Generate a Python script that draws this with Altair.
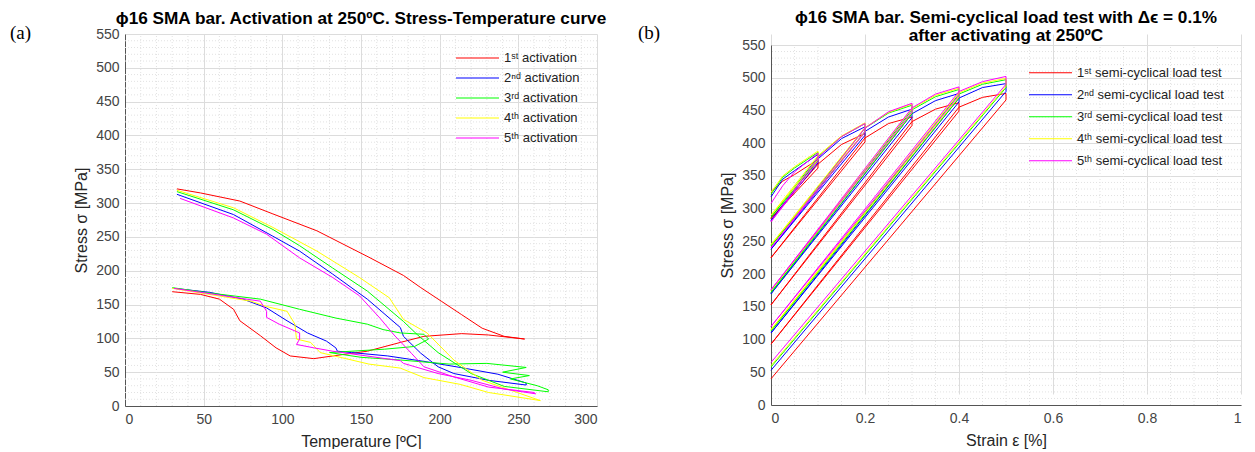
import altair as alt
import pandas as pd

FONT = "Liberation Sans"
COLORS = ["#ff0000", "#0000ff", "#00ff00", "#ffff00", "#ff00ff"]

A_LABELS = ["1ˢᵗ activation", "2ⁿᵈ activation", "3ʳᵈ activation",
            "4ᵗʰ activation", "5ᵗʰ activation"]
B_LABELS = ["1ˢᵗ semi-cyclical load test", "2ⁿᵈ semi-cyclical load test",
            "3ʳᵈ semi-cyclical load test", "4ᵗʰ semi-cyclical load test",
            "5ᵗʰ semi-cyclical load test"]
TAGS = ["(a)", "(b)"]

# ---------------- panel (a): temperature [ºC] / stress [MPa] ----------------
A1_T = [30, 48, 60, 69, 73, 86, 96, 105, 120, 132, 154, 175, 190, 214, 231, 254,
        241, 227, 214, 201, 188, 177, 155, 122, 94, 73, 48, 33]
A1_S = [169, 165, 158, 143, 126, 104, 86, 74, 70, 74, 81, 94, 103, 107, 105, 99,
        103, 115, 135, 155, 175, 193, 220, 259, 284, 303, 315, 321]

A2_T = [31, 54, 75, 90, 103, 116, 128, 134, 135, 144, 167, 190, 213, 237, 255,
        255, 231, 220, 209, 199, 188, 177, 175, 154, 132, 111, 94, 69, 33]
A2_S = [174, 168, 158, 145, 126, 108, 96, 86, 81, 79, 74, 66, 57, 47, 34,
        31, 38, 43, 48, 58, 78, 103, 116, 158, 195, 229, 251, 283, 313]

A3_T = [30, 54, 86, 111, 134, 154, 164, 175, 190, 193, 184, 165, 130, 150, 175, 206,
        230, 255, 240, 257, 245, 262, 269, 269, 241, 220, 199, 186, 177, 154, 132,
        111, 94, 69, 33]
A3_S = [175, 167, 158, 143, 130, 121, 113, 108, 106, 99, 88, 84, 79, 72, 68, 62,
        63, 57, 50, 45, 40, 30, 24, 21, 29, 48, 79, 105, 125, 170, 204,
        237, 261, 290, 317]

A4_T = [30, 80, 90, 103, 108, 109, 118, 120, 124, 155, 175, 190, 213, 231, 264,
        264, 227, 209, 192, 177, 168, 149, 122, 94, 69, 33]
A4_S = [174, 155, 147, 140, 121, 99, 94, 89, 79, 62, 56, 42, 32, 20, 8,
        8, 38, 68, 108, 128, 160, 190, 229, 264, 293, 319]

A5_T = [31, 86, 90, 90, 98, 111, 111, 109, 120, 132, 175, 177, 199, 220, 241, 261,
        260, 231, 209, 190, 182, 171, 162, 149, 132, 111, 96, 90, 69, 35]
A5_S = [174, 155, 140, 131, 121, 108, 99, 91, 86, 81, 67, 63, 48, 38, 25, 18,
        20, 28, 43, 58, 78, 105, 130, 163, 190, 219, 244, 254, 278, 307]

# ---------------- panel (b): strain [%] / stress [MPa] ----------------
B_STRAIN = [0, 0.025, 0.05, 0.1, 0.1, 0, 0.1, 0.15, 0.2, 0.2, 0, 0.2, 0.25, 0.3,
            0.3, 0, 0.3, 0.35, 0.4, 0.4, 0, 0.4, 0.45, 0.5, 0.5, 0]
B1_S = [325, 342, 352, 375, 362, 285, 368, 398, 415, 402, 225, 408, 430, 440,
        427, 153, 433, 452, 462, 449, 93, 455, 470, 476, 466, 40]
B2_S = [318, 345, 358, 383, 370, 282, 376, 407, 425, 412, 238, 418, 440, 452,
        439, 170, 445, 465, 476, 463, 110, 469, 485, 491, 479, 53]
B3_S = [322, 348, 362, 386, 373, 287, 379, 410, 430, 417, 243, 423, 446, 458,
        445, 172, 451, 471, 482, 469, 113, 475, 490, 497, 485, 58]
B4_S = [325, 350, 364, 388, 375, 290, 381, 411, 431, 418, 245, 424, 447, 460,
        447, 175, 453, 473, 484, 471, 115, 477, 492, 499, 487, 60]
B5_S = [308, 335, 356, 385, 372, 280, 378, 410, 430, 417, 240, 423, 448, 461,
        448, 176, 454, 475, 486, 473, 120, 479, 494, 502, 490, 65]

A_TICKS_X = [0, 50, 100, 150, 200, 250, 300]
B_TICKS_X = [0, 0.2, 0.4, 0.6, 0.8, 1]
Y_DOMAIN = [0, 550]
TICKS_Y = [0, 50, 100, 150, 200, 250, 300, 350, 400, 450, 500, 550]
A_MINOR_X = [v for v in range(10, 300, 10) if v % 50]
B_MINOR_X = [0.05, 0.1, 0.15, 0.25, 0.3, 0.35, 0.45, 0.5, 0.55, 0.65, 0.7, 0.75,
             0.85, 0.9, 0.95]
MINOR_Y = [v for v in range(10, 550, 10) if v % 50]

# ---------------- build tables ----------------
rows_a = []
for lab, ts, ss in zip(A_LABELS, [A1_T, A2_T, A3_T, A4_T, A5_T],
                       [A1_S, A2_S, A3_S, A4_S, A5_S]):
    for i, (t, s) in enumerate(zip(ts, ss)):
        rows_a.append({"act": lab, "T": t, "S": s, "i": i})
df_a = pd.DataFrame(rows_a)

rows_b = []
for lab, ss in zip(B_LABELS, [B1_S, B2_S, B3_S, B4_S, B5_S]):
    for i, (e, s) in enumerate(zip(B_STRAIN, ss)):
        rows_b.append({"test": lab, "E": e, "S": s, "i": i})
df_b = pd.DataFrame(rows_b)

MAJOR_GRID = "#dcdcdc"
MINOR_GRID = "#e2e2e2"
AXIS_COL = "#555555"
YTITLE = "Stress σ [MPa]"


def panel(df, xfield, xdom, xticks, xfmt, xminor, xtitle, cfield, labels, title,
          width, height, top_gap, legend_xy, row_h, tags, title_dy):
    xs = alt.Scale(domain=xdom, nice=False, zero=False)
    ys = alt.Scale(domain=Y_DOMAIN, nice=False, zero=False,
                   range=[height, top_gap])
    xax = alt.Axis(values=xticks, title=xtitle, format=xfmt, grid=True,
                   gridColor=MAJOR_GRID, titlePadding=7)
    yax = alt.Axis(values=TICKS_Y, title=YTITLE, grid=True,
                   gridColor=MAJOR_GRID, titlePadding=6)
    mx = pd.DataFrame({"v": xminor, "lo": Y_DOMAIN[0], "hi": Y_DOMAIN[1]})
    minor_x = alt.Chart(mx).mark_rule(
        color=MINOR_GRID, strokeDash=[1, 2], strokeWidth=1
    ).encode(x=alt.X("v:Q", scale=xs, axis=xax, title=xtitle),
             y=alt.Y("lo:Q", scale=ys, axis=yax, title=YTITLE),
             y2="hi:Q")
    minor_y = alt.Chart(pd.DataFrame({"v": MINOR_Y})).mark_rule(
        color=MINOR_GRID, strokeDash=[1, 2], strokeWidth=1
    ).encode(y=alt.Y("v:Q", scale=ys, axis=yax, title=YTITLE))
    lines = alt.Chart(df).mark_line(strokeWidth=1).encode(
        x=alt.X(f"{xfield}:Q", scale=xs, axis=xax, title=xtitle),
        y=alt.Y("S:Q", scale=ys, axis=yax, title=YTITLE),
        color=alt.Color(f"{cfield}:N",
                        scale=alt.Scale(domain=labels, range=COLORS),
                        sort=labels,
                        legend=alt.Legend(
                            title=None, orient="none",
                            legendX=legend_xy[0], legendY=legend_xy[1],
                            symbolType="stroke", symbolSize=1849,
                            symbolStrokeWidth=1.2, clipHeight=row_h,
                            rowPadding=0, padding=0,
                            labelFont=FONT, labelFontSize=13,
                            labelColor="#222222", labelOffset=4)),
        detail=f"{cfield}:N",
        order="i:Q",
    )
    layers = [minor_x, minor_y, lines]
    for txt, (tx, ty) in tags:
        layers.append(alt.Chart(pd.DataFrame({"t": [txt]})).mark_text(
            font="Liberation Serif", fontSize=19, align="left",
            baseline="middle", color="black"
        ).encode(text="t:N", x=alt.value(tx), y=alt.value(ty)))
    return alt.layer(*layers).properties(
        width=width, height=height,
        title=alt.TitleParams(text=title, font=FONT, fontSize=17.2,
                              fontWeight="bold", color="black",
                              anchor="middle", frame="group",
                              offset=2, dy=title_dy, lineHeight=18),
    )


pa = panel(df_a, "T", [0, 300], A_TICKS_X, "d", A_MINOR_X, "Temperature [ºC]",
           "act", A_LABELS,
           "ϕ16 SMA bar. Activation at 250ºC. Stress-Temperature curve",
           472, 372, 0, (330, 14), 20,
           [(TAGS[0], (-115, -1)), (TAGS[1], (513, -1))], 5)
pb = panel(df_b, "E", [0, 1], B_TICKS_X, "~g", B_MINOR_X, "Strain ε [%]",
           "test", B_LABELS,
           ["ϕ16 SMA bar. Semi-cyclical load test with Δϵ = 0.1%",
            "after activating at 250ºC"],
           470, 371, 11, (257, 28), 21.5, [], 12.5)

chart = alt.hconcat(pa, pb, spacing=58).resolve_scale(
    color="independent"
).properties(
    padding={"left": 10, "top": 9, "right": 0, "bottom": 0}
).configure_view(stroke=None).configure_axis(
    labelFont=FONT, labelFontSize=14, labelColor="#444444",
    titleFont=FONT, titleFontSize=16, titleFontWeight="normal",
    titleColor="#262626", domainColor=AXIS_COL, domainWidth=1,
    ticks=False, labelPadding=6,
)

chart.save("out.html", embed_options={"renderer": "svg", "actions": False})
